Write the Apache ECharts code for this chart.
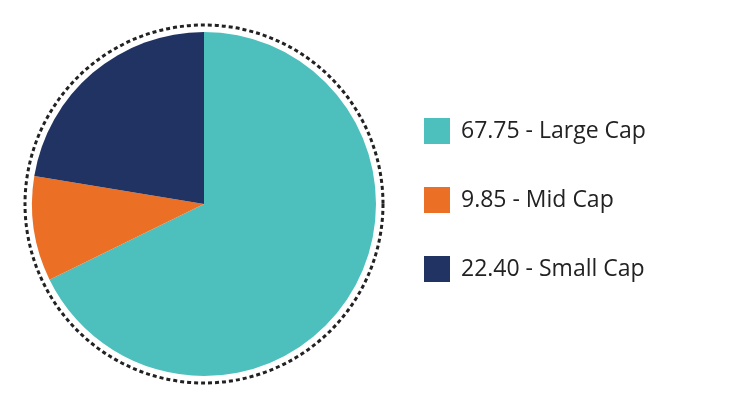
<!DOCTYPE html>
<html><head><meta charset="utf-8">
<script src="https://cdn.jsdelivr.net/npm/echarts@6/dist/echarts.min.js"></script>
<style>html,body{margin:0;padding:0;background:#fff}#c{width:732px;height:407px}</style>
</head><body><div id="c"></div>
<script>
const categories = ['Large Cap', 'Mid Cap', 'Small Cap'];
const values = [67.75, 9.85, 22.40];
const colors = ['#4DC0BD', '#EB7025', '#213363'];
const labels = ['67.75', '9.85', '22.40'];

const chart = echarts.init(document.getElementById('c'));
chart.setOption({
  animation: false,
  legend: {
    orient: 'vertical', left: 419, top: 113,
    itemWidth: 26, itemHeight: 26, itemGap: 43,
    icon: 'rect',
    textStyle: { fontSize: 23, color: '#222', fontFamily: 'Open Sans', padding: [0,0,0,6] },
    formatter: n => labels[categories.indexOf(n)] + ' - ' + n
  },
  graphic: [{
    type: 'circle', shape: { cx: 204, cy: 204, r: 179 },
    style: { fill: 'none', stroke: '#222', lineWidth: 3, lineDash: [4, 3] }
  }],
  series: [{
    type: 'pie', center: [204, 204], radius: [0, 172],
    startAngle: 90, clockwise: true,
    label: { show: false }, labelLine: { show: false },
    itemStyle: { borderWidth: 0 },
    data: categories.map((c, i) => ({ name: c, value: values[i], itemStyle: { color: colors[i] } }))
  }]
});
</script></body></html>
